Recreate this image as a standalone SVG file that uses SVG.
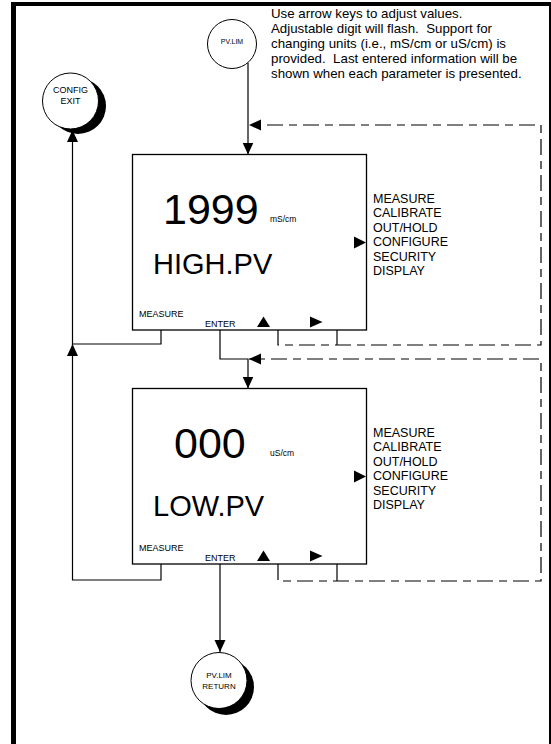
<svg xmlns="http://www.w3.org/2000/svg" width="551" height="744" viewBox="0 0 551 744">
<style>
text{font-family:"Liberation Sans",Arial,sans-serif;fill:#000}
.ln{fill:none;stroke:#000;stroke-width:1.2}
.dash{fill:none;stroke:#000;stroke-width:1.2;stroke-dasharray:16 6 8 6}
.box{fill:#fff;stroke:#000;stroke-width:1.3}
.circ{fill:#fff;stroke:#000;stroke-width:1}
.big{font-size:43px}
.name{font-size:29px}
.unit{font-size:8.5px}
.menu{font-size:12.5px}
.key{font-size:9px}
.note{font-size:13.3px;white-space:pre}
</style>
<defs>
<marker id="ah" markerUnits="userSpaceOnUse" markerWidth="12" markerHeight="12" viewBox="0 0 12 12" refX="12" refY="6" orient="auto">
<path d="M0,0.5 L12,6 L0,11.5 Z" fill="#000"/>
</marker>
</defs>
<rect width="551" height="744" fill="#fff"/>
<g id="frame">
<line x1="13.5" y1="2" x2="13.5" y2="744" stroke="#000" stroke-width="5"/>
<line x1="11" y1="4" x2="551" y2="4" stroke="#000" stroke-width="4"/>
<line x1="550" y1="2" x2="550" y2="744" stroke="#000" stroke-width="2"/>
</g>
<g id="note">
<text class="note" x="271" y="18">Use arrow keys to adjust values.</text>
<text class="note" x="271" y="33">Adjustable digit will flash.  Support for</text>
<text class="note" x="271" y="48">changing units (i.e., mS/cm or uS/cm) is</text>
<text class="note" x="271" y="63">provided.  Last entered information will be</text>
<text class="note" x="271" y="78">shown when each parameter is presented.</text>
</g>
<g id="connectors">
<path class="ln" d="M248,63 V154.5" marker-end="url(#ah)"/>
<path class="dash" d="M278,330 V345 H541 V125 H249" marker-end="url(#ah)"/>
<path class="ln" d="M337,330 V345"/>
<path class="ln" d="M220,330 V359 H248 V388.5" marker-end="url(#ah)"/>
<path class="dash" d="M278,564 V581 H541 V359 H249" marker-end="url(#ah)"/>
<path class="ln" d="M337,564 V581"/>
<path class="ln" d="M161,330 V344 H72.5 V130" marker-end="url(#ah)"/>
<path class="ln" d="M161,564 V580 H72.5 V344" marker-end="url(#ah)"/>
<path class="ln" d="M220,564 V652" marker-end="url(#ah)"/>
</g>
<g id="config-exit">
<circle cx="78" cy="106" r="28" fill="#000"/>
<circle class="circ" cx="70.5" cy="101" r="28"/>
<text class="key" x="70.5" y="92.5" text-anchor="middle">CONFIG</text>
<text class="key" x="70.5" y="104" text-anchor="middle">EXIT</text>
</g>
<g id="pv-lim">
<circle class="circ" cx="232" cy="44" r="24.5"/>
<text x="232" y="44" text-anchor="middle" style="font-size:7px">PV.LIM</text>
</g>
<g id="high-pv">
<rect class="box" x="132.5" y="154.5" width="234" height="175.5"/>
<text class="big" x="163" y="224">1999</text>
<text class="unit" x="270" y="221.5">mS/cm</text>
<text class="name" x="153" y="274">HIGH.PV</text>
<text class="key" x="139" y="316.5">MEASURE</text>
<text class="key" x="205" y="326.5">ENTER</text>
<path d="M257,327 L263.5,316.5 L270,327 Z"/>
<path d="M310,316.5 L322.5,322 L310,327.5 Z"/>
<path d="M354,236.5 L366,242.5 L354,248.5 Z"/>
<text class="menu" x="373" y="202.5">MEASURE</text>
<text class="menu" x="373" y="217">CALIBRATE</text>
<text class="menu" x="373" y="231.5">OUT/HOLD</text>
<text class="menu" x="373" y="246">CONFIGURE</text>
<text class="menu" x="373" y="260.5">SECURITY</text>
<text class="menu" x="373" y="275">DISPLAY</text>
</g>
<g id="low-pv">
<rect class="box" x="132.5" y="388.5" width="234" height="175.5"/>
<text class="big" x="174" y="458">000</text>
<text class="unit" x="270" y="456">uS/cm</text>
<text class="name" x="153" y="515.5">LOW.PV</text>
<text class="key" x="139" y="550.5">MEASURE</text>
<text class="key" x="205" y="560.5">ENTER</text>
<path d="M257,561 L263.5,550.5 L270,561 Z"/>
<path d="M310,550.5 L322.5,556 L310,561.5 Z"/>
<path d="M354,470.5 L366,476.5 L354,482.5 Z"/>
<text class="menu" x="373" y="436.5">MEASURE</text>
<text class="menu" x="373" y="451">CALIBRATE</text>
<text class="menu" x="373" y="465.5">OUT/HOLD</text>
<text class="menu" x="373" y="480">CONFIGURE</text>
<text class="menu" x="373" y="494.5">SECURITY</text>
<text class="menu" x="373" y="509">DISPLAY</text>
</g>
<g id="pv-lim-return">
<circle cx="226" cy="687" r="28" fill="#000"/>
<circle class="circ" cx="219" cy="680.5" r="28"/>
<text x="219" y="677.5" text-anchor="middle" style="font-size:8px">PV.LIM</text>
<text x="219" y="689" text-anchor="middle" style="font-size:8px">RETURN</text>
</g>
</svg>
